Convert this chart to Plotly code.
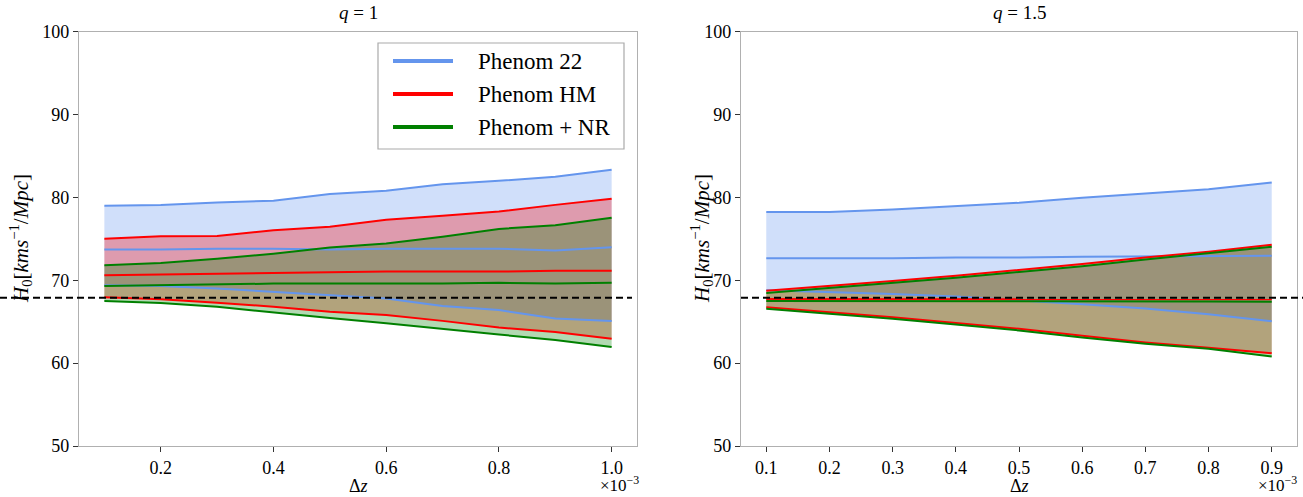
import plotly.graph_objects as go

# delta z in units of 1e-3
dz_q1 = [0.1, 0.2, 0.3, 0.4, 0.5, 0.6, 0.7, 0.8, 0.9, 1.0]
dz_q15 = [0.1, 0.2, 0.3, 0.4, 0.5, 0.6, 0.7, 0.8, 0.9]

# q = 1 : upper / median / lower H0 bounds
p22_up_q1 = [79.0, 79.1, 79.4, 79.6, 80.4, 80.8, 81.6, 82.0, 82.5, 83.35]
p22_med_q1 = [73.7, 73.7, 73.8, 73.8, 73.7, 73.8, 73.8, 73.8, 73.6, 74.0]
p22_lo_q1 = [69.4, 69.3, 69.0, 68.6, 68.2, 67.8, 66.9, 66.4, 65.4, 65.1]

hm_up_q1 = [75.0, 75.3, 75.35, 76.05, 76.45, 77.3, 77.8, 78.3, 79.1, 79.85]
hm_med_q1 = [70.6, 70.7, 70.8, 70.9, 71.0, 71.05, 71.05, 71.05, 71.15, 71.15]
hm_lo_q1 = [67.95, 67.7, 67.3, 66.8, 66.2, 65.8, 65.1, 64.3, 63.75, 62.95]

nr_up_q1 = [71.8, 72.1, 72.6, 73.2, 73.95, 74.45, 75.25, 76.2, 76.65, 77.55]
nr_med_q1 = [69.3, 69.4, 69.5, 69.6, 69.6, 69.6, 69.6, 69.7, 69.6, 69.7]
nr_lo_q1 = [67.5, 67.25, 66.8, 66.1, 65.45, 64.8, 64.1, 63.45, 62.8, 61.95]

# q = 1.5
p22_up_q15 = [78.25, 78.25, 78.55, 78.95, 79.35, 79.95, 80.5, 81.0, 81.8]
p22_med_q15 = [72.65, 72.65, 72.65, 72.75, 72.75, 72.85, 72.9, 72.95, 72.95]
p22_lo_q15 = [68.8, 68.6, 68.35, 68.05, 67.6, 67.1, 66.6, 65.9, 65.05]

hm_up_q15 = [68.75, 69.3, 69.9, 70.55, 71.25, 71.95, 72.75, 73.45, 74.3]
hm_med_q15 = [67.75, 67.75, 67.75, 67.75, 67.75, 67.75, 67.75, 67.7, 67.7]
hm_lo_q15 = [66.75, 66.15, 65.55, 64.85, 64.15, 63.3, 62.5, 61.85, 61.2]

nr_up_q15 = [68.45, 69.05, 69.65, 70.3, 71.0, 71.7, 72.5, 73.25, 74.05]
nr_med_q15 = [67.5, 67.5, 67.5, 67.5, 67.5, 67.5, 67.45, 67.45, 67.4]
nr_lo_q15 = [66.55, 65.95, 65.35, 64.65, 63.95, 63.1, 62.35, 61.75, 60.8]

h0_ref = 67.9

names = ['Phenom 22', 'Phenom HM', 'Phenom + NR']
colors = ['#6495ED', '#FF0000', '#008000']
fills = ['rgba(100,149,237,0.3)', 'rgba(255,0,0,0.3)', 'rgba(0,128,0,0.3)']

panels = [
    ('x', 'y', dz_q1, [(p22_up_q1, p22_med_q1, p22_lo_q1),
                       (hm_up_q1, hm_med_q1, hm_lo_q1),
                       (nr_up_q1, nr_med_q1, nr_lo_q1)]),
    ('x2', 'y2', dz_q15, [(p22_up_q15, p22_med_q15, p22_lo_q15),
                          (hm_up_q15, hm_med_q15, hm_lo_q15),
                          (nr_up_q15, nr_med_q15, nr_lo_q15)]),
]

fig = go.Figure()

# bands first so every line sits on top (like matplotlib zorder)
for xa, ya, xs, series in panels:
    for (up, med, lo), fc in zip(series, fills):
        fig.add_trace(go.Scatter(
            x=xs + xs[::-1], y=up + lo[::-1],
            fill='toself', fillcolor=fc, mode='lines',
            line=dict(width=0), hoverinfo='skip', showlegend=False,
            xaxis=xa, yaxis=ya))

for xa, ya, xs, series in panels:
    for (up, med, lo), c, n in zip(series, colors, names):
        for ys in (up, med, lo):
            fig.add_trace(go.Scatter(
                x=xs, y=ys, mode='lines', name=n,
                line=dict(color=c, width=2), showlegend=False,
                xaxis=xa, yaxis=ya))

W, H = 1303, 497
def px(v):
    return v / W
def py(v):
    return 1 - v / H

font_fam = 'Liberation Serif, Times New Roman, serif'
spine = '#b0b0b0'

axis_common = dict(
    showgrid=False, zeroline=False, showline=True, linecolor=spine,
    linewidth=1.2, mirror=True, ticks='outside', ticklen=5, tickwidth=1,
    tickcolor='#333333', tickfont=dict(family=font_fam, size=18, color='black'),
    automargin=False,
)

fig.update_layout(
    width=W, height=H,
    margin=dict(l=0, r=0, t=0, b=0),
    plot_bgcolor='white', paper_bgcolor='white',
    font=dict(family=font_fam, color='black'),
    showlegend=False,
    xaxis=dict(axis_common, domain=[px(79), px(637)], range=[0.055, 1.045],
               tickvals=[0.2, 0.4, 0.6, 0.8, 1.0], tickformat='.1f', anchor='y'),
    yaxis=dict(axis_common, domain=[py(446), py(31.7)], range=[50, 100],
               dtick=10, anchor='x'),
    xaxis2=dict(axis_common, domain=[px(741), px(1297)], range=[0.06, 0.94],
                tickvals=dz_q15, tickformat='.1f', anchor='y2'),
    yaxis2=dict(axis_common, domain=[py(446), py(31.7)], range=[50, 100],
                dtick=10, anchor='x2'),
)

# reference H0 dashed lines
dash = dict(color='black', width=2, dash='7px,4px')
fig.add_shape(type='line', xref='paper', yref='y', x0=0, x1=px(632),
              y0=h0_ref, y1=h0_ref, line=dash)
fig.add_shape(type='line', xref='paper', yref='y2', x0=px(741), x1=1,
              y0=h0_ref, y1=h0_ref, line=dash)

ann = []
ylabel = '<i>H</i><sub>0</sub>[<i>kms</i><sup>\u22121</sup>/<i>Mpc</i>]'
for xc, title, xr in [(px(358), '<i>q</i> = 1', px(641)),
                      (px(1019), '<i>q</i> = 1.5', px(1299))]:
    ann.append(dict(text=title, xref='paper', yref='paper', x=xc, y=py(13),
                    xanchor='center', yanchor='middle',
                    showarrow=False, font=dict(size=19)))
    ann.append(dict(text='\u0394<i>z</i>', xref='paper', yref='paper', x=xc,
                    y=py(486), xanchor='center', yanchor='middle',
                    showarrow=False, font=dict(size=18)))
    ann.append(dict(text='\u00d710<sup>\u22123</sup>', xref='paper', yref='paper',
                    x=xr, y=py(484), xanchor='right', yanchor='middle',
                    showarrow=False, font=dict(size=17)))
for xc in [px(21), px(702)]:
    ann.append(dict(text=ylabel, xref='paper', yref='paper', x=xc, y=py(239),
                    xanchor='center', yanchor='middle',
                    textangle=-90, showarrow=False, font=dict(size=21)))

# legend box (upper right of the q=1 panel)
fig.add_shape(type='rect', xref='paper', yref='paper', x0=px(378), x1=px(624),
              y0=py(149), y1=py(43), line=dict(color='#aaaaaa', width=1.2),
              fillcolor='white', layer='above')
for i, (n, c) in enumerate(zip(names, colors)):
    yy = py(61 + i * 33)
    fig.add_shape(type='line', xref='paper', yref='paper', x0=px(393), x1=px(453),
                  y0=yy, y1=yy, line=dict(color=c, width=4), layer='above')
    ann.append(dict(text=n, xref='paper', yref='paper', x=px(476), y=yy,
                    xanchor='left', yanchor='middle',
                    showarrow=False, font=dict(size=23)))

fig.update_layout(annotations=ann)

# no body margin, so the figure fills the window exactly
fig.write_html('out.html', config={'displayModeBar': False},
               post_script="document.body.style.margin='0';"
                           "document.body.style.overflow='hidden';")
